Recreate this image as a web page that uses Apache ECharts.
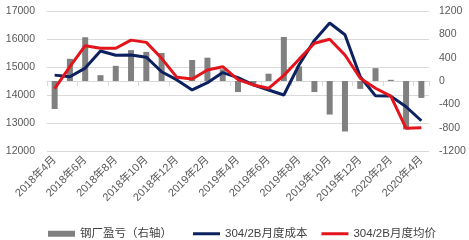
<!DOCTYPE html>
<html>
<head>
<meta charset="utf-8">
<script src="https://cdn.jsdelivr.net/npm/echarts@6/dist/echarts.min.js"></script>
<style>html,body{margin:0;padding:0;background:#fff}#c{width:469px;height:240px}</style>
</head>
<body>
<div id="c"></div>
<script>
const categories = ['2018年4月','2018年5月','2018年6月','2018年7月','2018年8月','2018年9月','2018年10月','2018年11月','2018年12月','2019年1月','2019年2月','2019年3月','2019年4月','2019年5月','2019年6月','2019年7月','2019年8月','2019年9月','2019年10月','2019年11月','2019年12月','2020年1月','2020年2月','2020年3月','2020年4月'];
const profit = [-480, 380, 750, 100, 260, 530, 500, 480, 0, 360, 400, 200, -190, -50, 125, 755, 250, -190, -575, -865, -135, 220, 20, -830, -290];
const cost = [14710, 14650, 14960, 15570, 15420, 15430, 15350, 14830, 14540, 14180, 14440, 14800, 14620, 14360, 14180, 14000, 15080, 15950, 16570, 16150, 14650, 13970, 13960, 13580, 13080];
const price = [14230, 15010, 15760, 15670, 15670, 15960, 15880, 15310, 14630, 14570, 14890, 15010, 14550, 14360, 14240, 14700, 15280, 15850, 15990, 15430, 14600, 14240, 13960, 12810, 12830];
const leftTicks = [12000, 13000, 14000, 15000, 16000, 17000];
const rightTicks = [-1200, -800, -400, 0, 400, 800, 1200];
const seriesNames = ['钢厂盈亏（右轴）', '304/2B月度成本', '304/2B月度均价'];

const font = '"Liberation Sans", "Noto Sans CJK SC", sans-serif';
const chart = echarts.init(document.getElementById('c'), null, {renderer: 'canvas'});
const legendText = {fontSize: 11.5, color: '#404040', fontFamily: font};
chart.setOption({
  animation: false,
  backgroundColor: '#ffffff',
  textStyle: {fontFamily: font},
  grid: {left: 47, right: 40, top: 11, bottom: 89},
  legend: [
    {
      left: 43, top: 223, itemWidth: 27, itemHeight: 6,
      textStyle: legendText,
      data: [{name: seriesNames[0], icon: 'rect'}]
    },
    {
      left: 188, top: 223, itemGap: 14, itemWidth: 27, itemHeight: 3,
      textStyle: legendText,
      data: [{name: seriesNames[1], icon: 'rect'}, {name: seriesNames[2], icon: 'rect'}]
    }
  ],
  xAxis: {
    type: 'category',
    data: categories,
    boundaryGap: true,
    axisLine: {lineStyle: {color: '#d9d9d9'}},
    axisTick: {show: true, interval: 1, length: 5, lineStyle: {color: '#d9d9d9'}},
    axisLabel: {interval: 1, rotate: 45, fontSize: 11, color: '#595959', margin: 7, fontFamily: font}
  },
  yAxis: [
    {
      type: 'value', min: leftTicks[0], max: leftTicks[leftTicks.length-1], interval: 1000,
      axisLine: {show: false}, axisTick: {show: false},
      splitLine: {lineStyle: {color: '#d9d9d9'}},
      axisLabel: {fontSize: 10.5, color: '#595959', margin: 12, fontFamily: font, formatter: v => String(v)}
    },
    {
      type: 'value', min: rightTicks[0], max: rightTicks[rightTicks.length-1], interval: 400,
      axisLine: {show: false}, axisTick: {show: false},
      splitLine: {show: false},
      axisLabel: {fontSize: 10.5, color: '#595959', margin: 10, fontFamily: font, formatter: v => String(v)}
    }
  ],
  series: [
    {
      name: seriesNames[0], type: 'bar', yAxisIndex: 1, data: profit,
      barWidth: 6, itemStyle: {color: '#808080'}
    },
    {
      name: seriesNames[1], type: 'line', yAxisIndex: 0, data: cost,
      symbol: 'none', lineStyle: {width: 3, color: '#0c2260'}, itemStyle: {color: '#0c2260'}
    },
    {
      name: seriesNames[2], type: 'line', yAxisIndex: 0, data: price,
      symbol: 'none', lineStyle: {width: 3, color: '#e3141b'}, itemStyle: {color: '#e3141b'}
    }
  ]
});
</script>
</body>
</html>
